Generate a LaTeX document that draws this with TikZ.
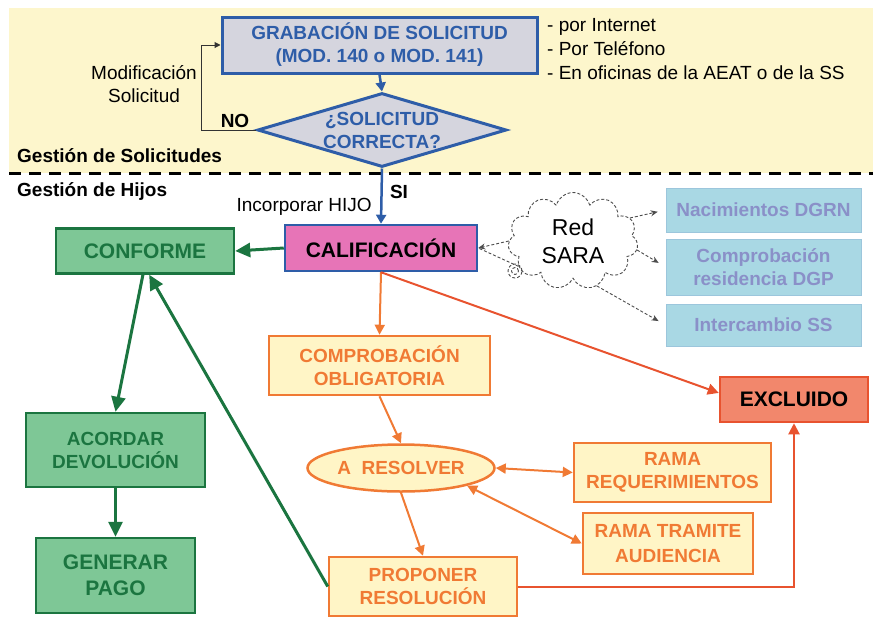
\documentclass[tikz,border=0pt]{standalone}
\usepackage{fontspec}
\setmainfont{Liberation Sans}
\usetikzlibrary{arrows.meta,positioning,calc,shapes.geometric,shapes.symbols}
\definecolor{bandyellow}{HTML}{FDF6CC}
\definecolor{solblue}{HTML}{2E5DA8}
\definecolor{solgray}{HTML}{D5D5DE}
\definecolor{calpink}{HTML}{E774B7}
\definecolor{okgreen}{HTML}{1B7540}
\definecolor{okfill}{HTML}{7EC796}
\definecolor{chkorange}{HTML}{F07A34}
\definecolor{chkfill}{HTML}{FFF5C6}
\definecolor{outred}{HTML}{E8532F}
\definecolor{outfill}{HTML}{F2876C}
\definecolor{extcyan}{HTML}{A9D8E4}
\definecolor{extline}{HTML}{9CC6DC}
\definecolor{exttext}{HTML}{8A90C8}

\begin{document}
\begin{tikzpicture}[x=1pt,y=-1pt,
  flowbox/.style={rectangle, inner sep=0pt, align=center, line width=2.5pt,
                  font=\bfseries\fontsize{19}{23}\selectfont},
  solbox/.style={flowbox, draw=solblue, fill=solgray, text=solblue, line width=3pt},
  calbox/.style={flowbox, draw=solblue, fill=calpink, text=black,
                 font=\bfseries\fontsize{21}{25}\selectfont},
  okbox/.style={flowbox, draw=okgreen, fill=okfill, text=okgreen},
  chkbox/.style={flowbox, draw=chkorange, fill=chkfill, text=chkorange},
  outbox/.style={flowbox, draw=outred, fill=outfill, text=black,
                 font=\bfseries\fontsize{21}{25}\selectfont},
  extbox/.style={flowbox, draw=extline, fill=extcyan, text=exttext, line width=1pt},
  plain/.style={inner sep=0pt, font=\fontsize{19}{23}\selectfont},
  boldtxt/.style={inner sep=0pt, font=\bfseries\fontsize{19}{23}\selectfont},
  bluearrow/.style={draw=solblue, line width=2.5pt, -{Triangle[length=9pt,width=10pt]}},
  thinarrow/.style={draw=black!80, line width=1pt, -{Triangle[length=6pt,width=6pt]}},
  greenarrow/.style={draw=okgreen, line width=3pt, -{Triangle[length=15pt,width=14pt]}},
  orangearrow/.style={draw=chkorange, line width=2pt, -{Triangle[length=10pt,width=10pt]}},
  orangetwo/.style={draw=chkorange, line width=2pt,
                    {Triangle[length=10pt,width=10pt]}-{Triangle[length=10pt,width=10pt]}},
  redarrow/.style={draw=outred, line width=2pt, -{Triangle[length=11pt,width=11pt]}},
  netline/.style={draw=black!70, line width=0.9pt, dash pattern=on 3pt off 2pt},
  netarrow/.style={netline, -{Stealth[length=7pt,width=6pt]}},
  sepline/.style={line width=3pt, dash pattern=on 12pt off 8pt}]
  \useasboundingbox (0,0) rectangle (873,619);
  \fill[bandyellow] (9,8) rectangle (873,173);
  \draw[sepline] (9,173) -- (873,173);

  % gestion de solicitudes
  \node[solbox, minimum width=315pt, minimum height=56pt] (grab) at (379.5,45)
    {GRABACIÓN DE SOLICITUD\\(MOD. 140 o MOD. 141)};
  \node[solbox, diamond, aspect=3.36, minimum width=249pt, minimum height=74pt] (diam)
    at (382,130) {¿SOLICITUD\\CORRECTA?};
  \node[plain, anchor=west, align=left, font=\fontsize{19}{24}\selectfont] (via) at (547,49)
    {- por Internet\\- Por Teléfono\\- En oficinas de la AEAT o de la SS};
  \node[plain, align=center] (modif) at (144,84) {Modificación\\Solicitud};
  \node[boldtxt] (no) at (235,121) {NO};
  \node[boldtxt, anchor=west] (gsol) at (17,156) {Gestión de Solicitudes};
  \node[boldtxt, anchor=west] (ghij) at (17,191) {Gestión de Hijos};
  \node[boldtxt] (si) at (399,192) {SI};
  \node[plain, anchor=east] (incorp) at (372,207) {Incorporar HIJO};

  \draw[bluearrow] (grab.south) -- (diam.north);
  \draw[thinarrow] (diam.west) -- ++(-55,0) |- (grab.west);

  % gestion de hijos
  \node[calbox, minimum width=192pt, minimum height=46pt] (calif) at (381,248) {CALIFICACIÓN};
  \node[okbox, minimum width=178pt, minimum height=45pt,
        font=\bfseries\fontsize{21}{25}\selectfont] (conf) at (145,251) {CONFORME};
  \node[okbox, minimum width=179pt, minimum height=74pt] (acord) at (115.5,450)
    {ACORDAR\\DEVOLUCIÓN};
  \node[okbox, minimum width=159pt, minimum height=75pt,
        font=\bfseries\fontsize{21}{26}\selectfont] (gener) at (115.5,575.5) {GENERAR\\PAGO};
  \draw[bluearrow] (diam.south) -- (calif.north);

  \node[cloud, cloud puffs=11, aspect=1.4, netline, inner sep=0pt,
        minimum width=130pt, minimum height=97pt,
        font=\fontsize{23}{28}\selectfont, align=center] (sara) at (573,241) {Red\\SARA};
  \draw[netline] (515,271) circle (7pt);
  \draw[netline] (515,271) circle (3.5pt);
  \node[extbox, minimum width=195pt, minimum height=44pt] (nac) at (763.5,210) {Nacimientos DGRN};
  \node[extbox, minimum width=195pt, minimum height=56pt] (resid) at (763.5,267)
    {Comprobación\\residencia DGP};
  \node[extbox, minimum width=195pt, minimum height=42pt] (inter) at (763.5,325) {Intercambio SS};

  \node[chkbox, minimum width=221pt, minimum height=59pt] (comp) at (379.5,365.5)
    {COMPROBACIÓN\\OBLIGATORIA};
  \node[outbox, minimum width=148pt, minimum height=45pt] (excl) at (794,399.5) {EXCLUIDO};
  \node[chkbox, ellipse, minimum width=187pt, minimum height=47pt] (resolver) at (401,468)
    {A\ \ RESOLVER};
  \node[chkbox, minimum width=197pt, minimum height=59pt] (req) at (672.5,472.5)
    {RAMA\\REQUERIMIENTOS};
  \node[chkbox, minimum width=170pt, minimum height=61pt,
        font=\bfseries\fontsize{19}{25}\selectfont] (tram) at (668,543.5)
    {RAMA TRAMITE\\AUDIENCIA};
  \node[chkbox, minimum width=188pt, minimum height=59pt] (prop) at (423,586.5)
    {PROPONER\\RESOLUCIÓN};

  \draw[greenarrow] (calif.west) -- (conf.east);
  \draw[greenarrow] (conf.-95) -- (acord.north);
  \draw[greenarrow] (acord.south) -- (gener.north);
  \draw[greenarrow] (prop.west) -- (conf.-80);

  \draw[netarrow] (sara.west) -- (calif.east);
  \draw[netline] (sara.205) -- (calif.east);
  \draw[netarrow, shorten >=8pt] (sara.22) -- (nac.west);
  \draw[netarrow, shorten >=8pt] (sara.-8) -- (resid.west);
  \draw[netarrow, shorten >=8pt] (sara.-62) -- (inter.west);

  \draw[orangearrow] (calif.south) -- (comp.north);
  \draw[redarrow] (calif.south) -- (excl.175);
  \draw[orangearrow] (comp.south) -- (resolver.north);
  \draw[orangetwo] (resolver.east) -- (req.west);
  \draw[orangetwo] (resolver.-15) -- (tram.west);
  \draw[orangearrow] (resolver.south) -- (prop.north);
  \draw[redarrow] (prop.east) -| (excl.south);
\end{tikzpicture}
\end{document}
